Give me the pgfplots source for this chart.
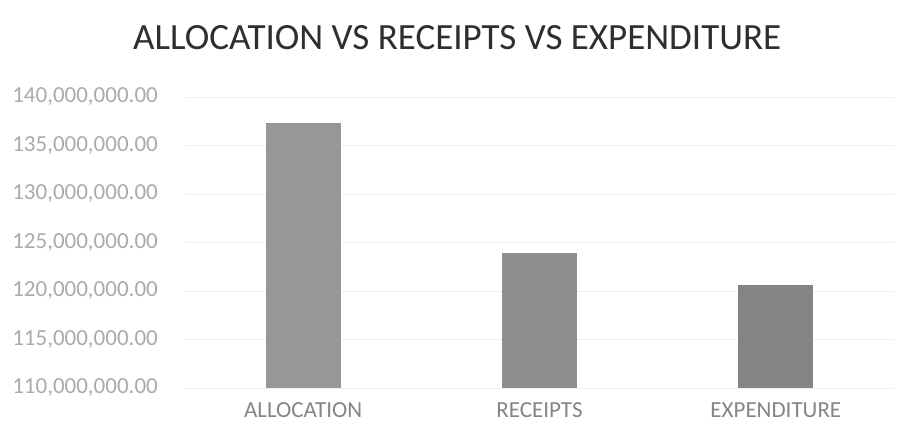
\documentclass[border=0pt]{standalone}
\usepackage{fontspec}
\setmainfont{Carlito}
\usepackage{pgfplots}
\pgfplotsset{compat=1.18}
\definecolor{titlec}{HTML}{2E2E2E}
\definecolor{ytickc}{HTML}{ABABAB}
\definecolor{xtickc}{HTML}{858585}
\definecolor{gridc}{HTML}{EFEFEF}
\definecolor{barA}{HTML}{979797}
\definecolor{barB}{HTML}{8E8E8E}
\definecolor{barC}{HTML}{848484}
\begin{document}
\begin{tikzpicture}
\useasboundingbox[fill=white] (-185bp,-42bp) rectangle (730bp,388bp);
\begin{axis}[
  at={(0,0)}, anchor=south west,
  scale only axis,
  width=709bp, height=291bp,
  xmin=-0.5, xmax=2.5,
  ymin=110000000, ymax=140000000,
  ytick={110000000,115000000,120000000,125000000,130000000,135000000,140000000},
  xtick={0,1,2},
  xticklabels={ALLOCATION,RECEIPTS,EXPENDITURE},
  scaled y ticks=false,
  major tick length=0pt,
  axis line style={draw=none},
  ymajorgrids,
  grid style={gridc, line width=0.8bp},
  yticklabel style={/pgf/number format/fixed, /pgf/number format/fixed zerofill, /pgf/number format/precision=2, /pgf/number format/1000 sep={,}, /pgf/number format/assume math mode=true},
  y tick label style={font=\fontsize{23bp}{27bp}\selectfont, text=ytickc, inner sep=0pt, anchor=east, xshift=-27bp},
  x tick label style={font=\fontsize{23bp}{27bp}\selectfont, text=xtickc, inner sep=0pt, anchor=base, yshift=-29bp},
  title={ALLOCATION VS RECEIPTS VS EXPENDITURE},
  title style={font=\fontsize{37bp}{42bp}\selectfont, text=titlec, at={(rel axis cs:0.384,1)}, anchor=base, inner sep=0pt, yshift=42bp},
]
\addplot[ybar, bar shift=0pt, bar width=75bp, fill=barA, draw=none] coordinates {(0,137300000)};
\addplot[ybar, bar shift=0pt, bar width=75bp, fill=barB, draw=none] coordinates {(1,123900000)};
\addplot[ybar, bar shift=0pt, bar width=75bp, fill=barC, draw=none] coordinates {(2,120600000)};
\end{axis}
\end{tikzpicture}
\end{document}
